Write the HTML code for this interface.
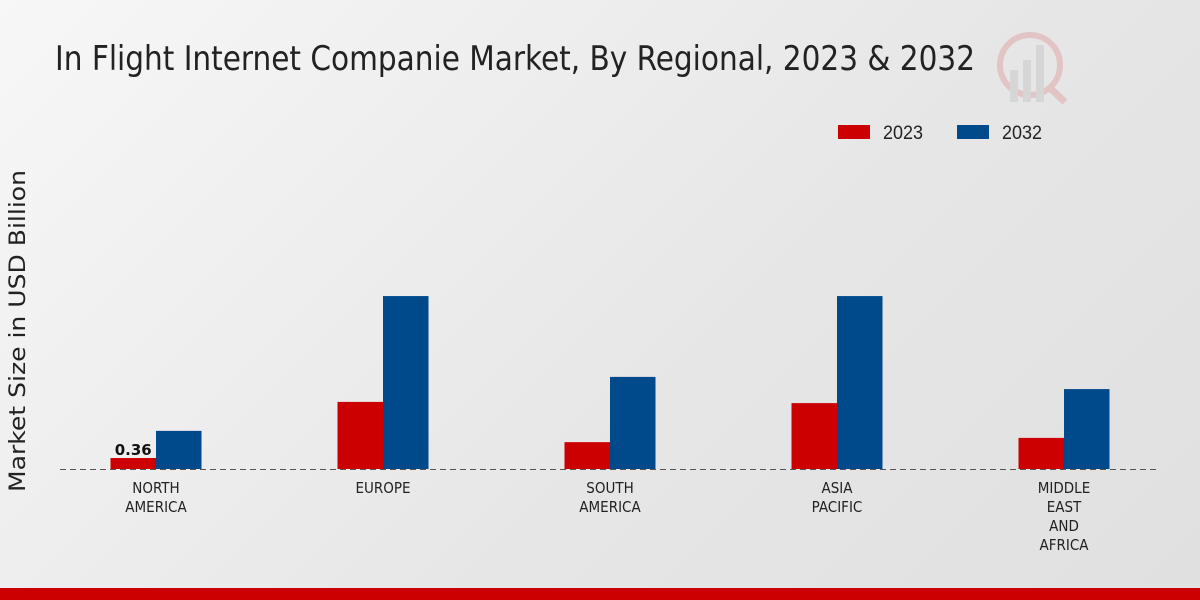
<!DOCTYPE html>
<html><head><meta charset="utf-8">
<style>
html,body{margin:0;padding:0;width:1200px;height:600px;overflow:hidden}
body{background:linear-gradient(135deg,#f7f7f7 0%,#e6e6e6 60%,#e0e0e0 100%);font-family:"Liberation Sans",sans-serif}
</style></head>
<body>
<svg id="chart" width="1200" height="600" xmlns="http://www.w3.org/2000/svg">
<text x="55" y="70" font-size="34" fill="#222" textLength="920" lengthAdjust="spacingAndGlyphs" font-family="DejaVu Sans Condensed, Liberation Sans, sans-serif">In Flight Internet Companie Market, By Regional, 2023 &amp; 2032</text>
<g opacity="0.35">
<circle cx="1030" cy="65" r="30" fill="none" stroke="#d88" stroke-width="6"/>
<rect x="1010" y="70" width="8" height="32" fill="#bbb"/><rect x="1023" y="60" width="8" height="42" fill="#bbb"/><rect x="1036" y="45" width="8" height="57" fill="#bbb"/>
<line x1="1050" y1="88" x2="1065" y2="102" stroke="#d88" stroke-width="7"/>
</g>
<g>
<rect x="838" y="125" width="32" height="14" fill="#cc0000"/>
<text x="883" y="139" font-size="19" fill="#222" textLength="40" lengthAdjust="spacingAndGlyphs">2023</text>
<rect x="957" y="125" width="32" height="14" fill="#004a8c"/>
<text x="1002" y="139" font-size="19" fill="#222" textLength="40" lengthAdjust="spacingAndGlyphs">2032</text>
</g>
<text transform="translate(25,331) rotate(-90)" text-anchor="middle" font-size="22" fill="#222" font-family="DejaVu Sans, sans-serif" textLength="322" lengthAdjust="spacingAndGlyphs">Market Size in USD Billion</text>
<line x1="60" y1="469.5" x2="1160" y2="469.5" stroke="#555" stroke-dasharray="6,4" stroke-width="1"/>
<g id="bars"></g>
<rect x="0" y="588" width="1200" height="12" fill="#cc0000"/>
</svg>
<script>
const categories = [["NORTH","AMERICA"],["EUROPE"],["SOUTH","AMERICA"],["ASIA","PACIFIC"],["MIDDLE","EAST","AND","AFRICA"]];
const values2023 = [0.36, 2.2, 0.88, 2.16, 1.02];
const values2032 = [1.25, 5.67, 3.02, 5.67, 2.62];
const valueLabels = ["0.36", null, null, null, null];
const NS = "http://www.w3.org/2000/svg";
const g = document.getElementById("bars");
const baseY = 469, pxPerUnit = 30.5, x0 = 156, step = 227, bw = 45.5;
const yScale = v => baseY - v * pxPerUnit;
const xCenter = i => x0 + i * step;
function rect(x, v, color, name) {
  const r = document.createElementNS(NS, "rect");
  r.setAttribute("x", x); r.setAttribute("y", yScale(v));
  r.setAttribute("width", bw); r.setAttribute("height", baseY - yScale(v));
  r.setAttribute("fill", color);
  
  
  g.appendChild(r);
}
categories.forEach((c, i) => {
  const cx = xCenter(i);
  rect(cx - bw, values2023[i], "#cc0000", "bar-2023-" + i);
  rect(cx, values2032[i], "#004a8c", "bar-2032-" + i);
  if (valueLabels[i]) {
    const t = document.createElementNS(NS, "text");
    t.setAttribute("x", cx - bw / 2); t.setAttribute("y", yScale(values2023[i]) - 3);
    t.setAttribute("text-anchor", "middle"); t.setAttribute("font-size", "15");
    t.setAttribute("font-weight", "bold"); t.setAttribute("fill", "#111");
    t.setAttribute("font-family", "DejaVu Sans, sans-serif");
    t.textContent = valueLabels[i];
    
    
    g.appendChild(t);
  }
  c.forEach((line, j) => {
    const t = document.createElementNS(NS, "text");
    t.setAttribute("x", cx); t.setAttribute("y", 493 + j * 19);
    t.setAttribute("text-anchor", "middle"); t.setAttribute("font-size", "15");
    t.setAttribute("fill", "#222");
    t.setAttribute("font-family", "DejaVu Sans Condensed, Liberation Sans, sans-serif");
    t.textContent = line;
    
    
    g.appendChild(t);
  });
});
</script>
</body></html>
